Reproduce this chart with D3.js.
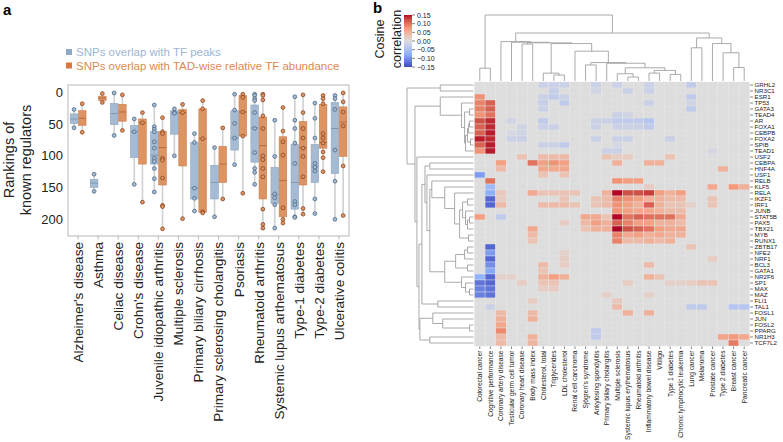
<!DOCTYPE html>
<html><head><meta charset="utf-8">
<script src="https://cdn.jsdelivr.net/npm/d3@7"></script>
<style>body{margin:0;background:#fff}svg{display:block}text{font-family:"Liberation Sans",Arial,Helvetica,sans-serif}</style>
</head><body><svg id="c" width="783" height="442"></svg>
<script>
// ---------------- Panel a data ----------------
const diseases = ["Alzheimer's disease","Asthma","Celiac disease","Crohn's disease","Juvenile idiopathic arthritis","Multiple sclerosis","Primary biliary cirrhosis","Primary sclerosing cholangitis","Psoriasis","Rheumatoid arthritis","Systemic lupus arthematosus","Type-1 diabetes","Type-2 diabetes","Ulcerative colitis"];
const yTicks = [0, 50, 100, 150, 200];
const seriesNames = ["SNPs overlap with TF peaks", "SNPs overlap with TAD-wise relative TF abundance"];

const peakQ1  = [34, 137, 17.5, 52, 62, 29, 79, 115, 29, 20, 118, 82, 82, 16];
const peakMed = [42, 143, 33.5, 62, 99, 33, 151, 142, 72, 56, 161, 142, 117, 57];
const peakQ3  = [49, 150, 51, 103, 113, 66, 168, 168, 91, 110, 175, 184, 142, 128];
const peakPts = [
  [27, 56], [129, 156], [1, 68], [42, 62, 145],
  [20, 54, 58, 62, 78, 88, 104, 109, 120, 136, 157],
  [26, 32, 33, 100], [65, 79, 151, 167, 187], [87, 196],
  [3, 28, 49, 72, 114], [3, 5, 10, 13, 32, 57, 95, 120, 126, 145],
  [44, 101, 160, 166, 177, 214], [7, 44, 57, 80, 112, 172, 177, 196, 197],
  [17, 41, 72, 112, 118, 124, 168, 191], [5, 10, 27, 91, 140, 200]
];
const tadQ1  = [29, 6, 19, 42, 62, 27, 26, 85, 5, 39, 70, 46, 19, 23];
const tadMed = [41, 9, 31, 48, 87, 32, 73, 113, 31, 84, 139, 87, 79, 47];
const tadQ3  = [52, 13, 45.5, 113, 146, 116, 189, 142, 69, 168, 196, 146, 88, 101];
const tadPts = [
  [18, 63], [2, 16], [4, 60], [32, 48, 173],
  [40, 62, 65, 104, 107, 135, 178, 180, 215],
  [19, 32, 199], [13, 26, 73, 188, 190], [56, 168],
  [3, 8, 31, 69, 159], [3, 5, 12, 37, 57, 100, 106, 120, 133, 184, 208, 214],
  [24, 61, 78, 99, 182, 200, 206], [4, 32, 57, 72, 88, 101, 133, 183, 192],
  [5, 10, 18, 65, 72, 80, 94, 103, 125], [1, 15, 31, 53, 116, 194]
];

// ---------------- Panel b data ----------------
const gwasTraits = ["Colorectal cancer","Cognitive performance","Coronary artery disease","Testicular germ cell tumor","Coronary heart disease","Body mass index","Cholesterol, total","Triglycerides","LDL cholesterol","Renal cell carcinoma","Sjögren's syndrome","Ankylosing spondylitis","Primary biliary cholangitis","Multiple sclerosis","Systemic lupus erythematosus","Rheumatoid arthritis","Inflammatory bowel disease","Vitiligo","Type 1 diabetes","Chronic lymphocytic leukemia","Lung cancer","Melanoma","Prostate cancer","Type 2 diabetes","Breast cancer","Pancreatic cancer"];
const tfs = ["GRHL2","NR3C1","ESR1","TP53","GATA3","TEAD4","AR","FOXA1","CEBPB","FOXA2","SPIB","TEAD1","USF2","CEBPA","HNF4A","USF1","RELB","KLF5","RELA","IKZF1","IRF1","JUNB","STAT5B","PAX5","TBX21","MYB","RUNX1","ZBTB17","NFE2","NRF1","BCL3","GATA1","NR2F6","SP1","MAX","MAZ","FLI1","TAL1","FOSL1","JUN","FOSL2","PPARG","NR1H3","TCF7L2"];
const colorbarTicks = [0.15, 0.10, 0.05, 0.00, -0.05, -0.10, -0.15];
// nonzero cosine correlations per TF row: [trait index, value]
const corrNonZero = [
  [[6,-.02],[7,-.02],[8,-.02],[11,-.02],[13,-.02],[16,-.02],[20,-.03]],
  [[7,-.025],[11,-.015],[14,-.02],[16,-.02]],
  [[0,.08],[6,-.02],[7,-.03],[8,-.02],[20,-.03]],
  [[0,.09],[1,.11],[6,-.025],[8,-.03],[16,-.02],[20,-.015]],
  [[0,.09],[1,.11],[6,-.02],[20,-.03]],
  [[0,.08],[1,.10],[13,-.02],[14,-.015]],
  [[0,.12],[1,.14],[3,-.015],[6,-.03],[11,-.02],[12,-.02],[13,-.03],[14,-.03],[15,-.03],[16,-.04]],
  [[0,.11],[1,.14],[4,-.015],[6,-.02],[7,-.02],[11,-.02],[13,-.02],[14,-.02],[15,-.02],[16,-.03]],
  [[0,.11],[1,.145],[3,-.01],[4,-.015]],
  [[0,.145],[1,.14],[3,-.02],[4,-.02],[11,-.02],[13,-.02],[14,-.02],[18,-.02]],
  [[0,.11],[1,.145],[6,-.02],[7,-.02],[8,-.03],[13,-.01]],
  [[0,.08],[1,.145],[12,-.02],[13,-.02],[22,-.01]],
  [[4,.03],[6,.04],[7,.04],[8,.04],[12,.03],[13,.02],[14,.02],[18,.03]],
  [[2,.07],[5,.10],[6,.07],[7,.08],[8,.07],[13,.05],[16,.05],[17,.05]],
  [[2,.04],[6,.06],[7,.06],[8,.06],[23,.05]],
  [[0,-.09],[6,.03],[8,.03]],
  [[1,.10],[13,.08],[14,.07],[15,.07]],
  [[1,-.06],[16,.02],[22,.06],[24,.075],[25,.05]],
  [[1,-.075],[2,.025],[5,.06],[6,.03],[7,.03],[8,.03],[9,.03],[12,.05],[13,.15],[14,.12],[15,.12],[16,.13],[17,.07],[18,.05],[19,.07]],
  [[1,-.13],[2,.02],[8,.03],[11,.03],[12,.04],[13,.09],[14,.08],[15,.07],[16,.05],[17,.05],[18,.04],[19,.04],[22,.03]],
  [[1,-.13],[2,.04],[6,.04],[7,.04],[8,.04],[9,.03],[11,.03],[12,.04],[13,.08],[14,.07],[15,.05],[16,.11],[17,.05],[18,.03],[19,.03],[20,.015],[22,.03]],
  [[13,.08],[14,.07],[15,.06],[16,.06],[17,.05],[18,.04],[19,.04]],
  [[0,.07],[2,-.03],[10,.06],[11,.06],[12,.03],[13,.15],[14,.10],[15,.11],[16,.10],[17,.10],[18,.10],[19,.06]],
  [[8,.02],[10,.04],[11,.07],[12,.05],[13,.11],[14,.09],[15,.07],[16,.07],[17,.05],[18,.05],[19,.04]],
  [[5,.06],[10,.03],[11,.05],[12,.05],[13,.15],[14,.12],[15,.11],[16,.10],[17,.07],[18,.06],[19,.06]],
  [[5,.04],[13,.09],[14,.06],[15,.07],[16,.05],[17,.06],[18,.05],[19,.05]],
  [[5,.03],[13,.09],[14,.04],[15,.04],[16,.05],[17,.04],[18,.05]],
  [[1,-.13],[20,.03]],
  [[1,-.09],[8,.015]],
  [[1,-.13],[8,.02],[22,.02]],
  [[1,-.10],[6,.04],[8,.02],[16,.04]],
  [[1,-.08],[6,.03]],
  [[0,-.07],[1,-.13],[2,.015],[3,.015],[6,.05],[7,.07],[8,.05],[16,.05],[17,.03]],
  [[0,-.12],[1,-.13],[4,.02],[6,.03],[7,.03],[14,.02],[18,.015],[19,.015],[20,.02],[21,.03],[22,.03]],
  [[0,-.11],[1,-.12],[6,.02],[7,.02]],
  [[0,-.11],[1,-.12],[12,.015],[16,.015]],
  [[5,.02],[13,.025]],
  [[1,-.02],[13,.04],[20,-.03],[21,-.03],[24,-.04],[25,-.04]],
  [[2,.04],[5,.04],[14,.05],[16,.05]],
  [[2,.05],[5,.05]],
  [[2,.06]],
  [[2,.085],[11,-.03]],
  [[2,.04],[5,.05],[11,-.03],[23,.065],[24,.075],[25,.06]],
  [[2,.04],[5,.045],[24,.095]]
];
// hierarchical clustering trees: [linkage distance, left, right]; leaves are indices
const traitTree = [1.0, [0.194, 0, 1],
  [0.727,
    [0.597, 2, [0.587, 3, [0.578, [0.56, 4, 5],
      [0.567, [0.119, 6, [0.09, 7, 8]],
        [0.452, 9, [0.279, [0.243, 10, 11],
          [0.269, 12, [0.2, [0.11, 13, [0.06, 14, 15]], [0.16, [0.12, 16, 17], [0.1, 18, 19]]]]]]]]]],
    [0.652, [0.503, 20, 21], [0.567, 22, [0.428, 23, [0.204, 24, 25]]]]]];
const tfTree = [1.0, [0.5, 0, 1],
  [0.88,
    [0.5, 2, [0.18, 3, [0.134, [0.06, 4, 5], [0.12, [0.09, [0.075, [0.06, 6, 7], 8], [0.045, 9, 10]], 11]]]],
    [0.851, 12,
      [0.82,
        [0.776,
          [0.73, [0.657, 13, 14],
            [0.70, 15,
              [0.657,
                [0.627, 16, [0.433, 17, [0.284, 18, [0.209, [0.164, [0.09, 19, 20], [0.12, 21, [0.09, [0.06, 22, 23], 24]]], [0.075, 25, 26]]]]],
                [0.433, [0.269, [0.134, [0.09, 27, 28], 29], [0.09, 30, 31]], [0.18, 32, [0.12, 33, [0.06, 34, 35]]]]]]],
          [0.537, 36, 37]],
        [0.806, [0.612, 38, [0.463, 39, [0.06, 40, 41]]], [0.657, 42, 43]]]]]];

// ---------------- Drawing ----------------
const svg = d3.select("#c");

svg.append("text").attr("x", 3).attr("y", 15).attr("font-size", 15).attr("font-weight", "bold").text("a");
svg.append("text").attr("x", 373).attr("y", 13).attr("font-size", 15).attr("font-weight", "bold").text("b");

// ---- Panel a ----
const fx0 = 68, fx1 = 349, fy0 = 85, fy1 = 236;
const x = d3.scaleBand().domain(diseases).range([fx0, fx1]);
const y = d3.scaleLinear().domain([0, 200]).range([92.3, 219.3]);
const blueFill = "#a5bbd3", blueStroke = "#8ea6c0", blueMed = "#7d94ae", bluePtStroke = "#4d6785";
const orFill = "#dd9462", orStroke = "#cc7d4d", orMed = "#b3683b", orPtStroke = "#8a4521";

const ga = svg.append("g");
const legend = [
  {name: seriesNames[0], fill: "#8ea9c8", text: "#9db6d4", y: 52},
  {name: seriesNames[1], fill: "#d9773f", text: "#db8a52", y: 65.5}
];
legend.forEach(l => {
  ga.append("rect").attr("x", 66).attr("y", l.y - 3).attr("width", 6).attr("height", 6).attr("fill", l.fill);
  ga.append("text").attr("x", 76).attr("y", l.y).attr("dy", "0.36em").attr("font-size", 11.5).attr("fill", l.text).text(l.name);
});

ga.append("rect").attr("x", fx0).attr("y", fy0).attr("width", fx1 - fx0).attr("height", fy1 - fy0)
  .attr("fill", "none").attr("stroke", "#c4c4c4").attr("stroke-width", 1.2);

yTicks.forEach(t => {
  ga.append("text").attr("x", 63).attr("y", y(t)).attr("dy", "0.36em").attr("text-anchor", "end")
    .attr("font-size", 13).attr("fill", "#222").text(t);
});
[["Rankings of", 9], ["known regulators", 26]].forEach(([s, xx]) => {
  ga.append("text").attr("transform", `translate(${xx},160) rotate(-90)`).attr("text-anchor", "middle")
    .attr("dy", "0.36em").attr("font-size", 14.5).attr("fill", "#222").text(s);
});
diseases.forEach(d => {
  const cx = x(d) + x.bandwidth() / 2;
  ga.append("line").attr("x1", cx).attr("x2", cx).attr("y1", fy1).attr("y2", fy1 + 3.5).attr("stroke", "#aaa").attr("stroke-width", 0.8);
  ga.append("text").attr("transform", `translate(${cx},242) rotate(-90)`).attr("text-anchor", "end")
    .attr("dy", "0.36em").attr("font-size", 13.6).attr("fill", "#222").text(d);
});

const bw = 7.6;
const series = [
  {q1: peakQ1, med: peakMed, q3: peakQ3, pts: peakPts, off: -4, fill: blueFill, stroke: blueStroke, medc: blueMed, ps: bluePtStroke},
  {q1: tadQ1, med: tadMed, q3: tadQ3, pts: tadPts, off: 4.2, fill: orFill, stroke: orStroke, medc: orMed, ps: orPtStroke}
];
series.forEach(s => diseases.forEach((d, i) => {
  const cx = x(d) + x.bandwidth() / 2 + s.off;
  const all = s.pts[i].concat([s.q1[i], s.q3[i]]);
  ga.append("line").attr("x1", cx).attr("x2", cx).attr("y1", y(d3.min(all))).attr("y2", y(d3.max(all)))
    .attr("stroke", "#cdd0d4").attr("stroke-width", 1.6);
}));
series.forEach(s => diseases.forEach((d, i) => {
  const cx = x(d) + x.bandwidth() / 2 + s.off;
  ga.append("rect").attr("x", cx - bw / 2).attr("y", y(s.q1[i])).attr("width", bw).attr("height", y(s.q3[i]) - y(s.q1[i]))
    .attr("fill", s.fill).attr("stroke", s.stroke).attr("stroke-width", 0.6);
  ga.append("line").attr("x1", cx - bw / 2).attr("x2", cx + bw / 2).attr("y1", y(s.med[i])).attr("y2", y(s.med[i]))
    .attr("stroke", s.medc).attr("stroke-width", 0.9);
}));
series.forEach(s => diseases.forEach((d, i) => {
  const cx = x(d) + x.bandwidth() / 2 + s.off;
  s.pts[i].forEach(v => {
    ga.append("circle").attr("cx", cx).attr("cy", y(v)).attr("r", 1.9)
      .attr("fill", s.fill).attr("stroke", s.ps).attr("stroke-width", 0.8);
  });
}));

// ---- Panel b ----
const hx0 = 474.5, hx1 = 749.5, hy0 = 82, hy1 = 346;
const cx = d3.scaleBand().domain(d3.range(gwasTraits.length)).range([hx0, hx1]);
const ry = d3.scaleBand().domain(d3.range(tfs.length)).range([hy0, hy1]);
const color = d3.scaleLinear().domain([-0.15, -0.075, 0, 0.075, 0.15])
  .range(["#3b4cc0", "#8db0fe", "#dddddd", "#f49a7b", "#b40426"]).interpolate(d3.interpolateLab).clamp(true);

const matrix = tfs.map((t, r) => {
  const row = gwasTraits.map(() => 0);
  corrNonZero[r].forEach(([c, v]) => { row[c] = v; });
  return row;
});
const cells = [];
matrix.forEach((row, r) => row.forEach((v, c) => cells.push({r, c, v})));
const gb = svg.append("g");
gb.selectAll("rect.cell").data(cells).join("rect").attr("class", "cell")
  .attr("x", d => cx(d.c)).attr("y", d => ry(d.r)).attr("width", cx.bandwidth()).attr("height", ry.bandwidth())
  .attr("fill", d => color(d.v)).attr("stroke", "#e6e6e6").attr("stroke-width", 0.4);

tfs.forEach((t, r) => {
  const yy = ry(r) + ry.bandwidth() / 2;
  gb.append("line").attr("x1", hx1 + 0.5).attr("x2", hx1 + 3.5).attr("y1", yy).attr("y2", yy).attr("stroke", "#333").attr("stroke-width", 0.6);
  gb.append("text").attr("x", hx1 + 5).attr("y", yy).attr("dy", "0.36em").attr("font-size", 6.2).attr("fill", "#222").text(t);
});
gwasTraits.forEach((t, c) => {
  const xx = cx(c) + cx.bandwidth() / 2;
  gb.append("line").attr("x1", xx).attr("x2", xx).attr("y1", hy1 + 0.5).attr("y2", hy1 + 3).attr("stroke", "#333").attr("stroke-width", 0.6);
  gb.append("text").attr("transform", `translate(${xx},${hy1 + 4.5}) rotate(-90)`).attr("text-anchor", "end")
    .attr("dy", "0.36em").attr("font-size", 6.6).attr("fill", "#222").text(t);
});

function layoutTree(node, leafPos, segs) {
  if (typeof node === "number") return {p: leafPos(node), d: 0};
  const [d, a, b] = node;
  const A = layoutTree(a, leafPos, segs), B = layoutTree(b, leafPos, segs);
  segs.push([[A.p, A.d], [A.p, d], [B.p, d], [B.p, B.d]]);
  return {p: (A.p + B.p) / 2, d};
}
const colSegs = [];
layoutTree(traitTree, i => cx(i) + cx.bandwidth() / 2, colSegs);
const colH = d3.scaleLinear().domain([0, 1]).range([hy0 - 1, 15]);
const colLine = d3.line().x(p => p[0]).y(p => colH(p[1]));
gb.selectAll("path.cd").data(colSegs).join("path").attr("class", "cd").attr("d", colLine)
  .attr("fill", "none").attr("stroke", "#a0a0a0").attr("stroke-width", 0.9);

const rowSegs = [];
layoutTree(tfTree, i => ry(i) + ry.bandwidth() / 2, rowSegs);
const rowH = d3.scaleLinear().domain([0, 1]).range([hx0 - 1, 407]);
const rowLine = d3.line().x(p => rowH(p[1])).y(p => p[0]);
gb.selectAll("path.rd").data(rowSegs).join("path").attr("class", "rd").attr("d", rowLine)
  .attr("fill", "none").attr("stroke", "#a0a0a0").attr("stroke-width", 0.9);

const defs = svg.append("defs");
const grad = defs.append("linearGradient").attr("id", "cb").attr("x1", 0).attr("y1", 1).attr("x2", 0).attr("y2", 0);
d3.range(0, 1.0001, 0.05).forEach(t => {
  grad.append("stop").attr("offset", t).attr("stop-color", color(-0.15 + 0.3 * t));
});
const cbY = d3.scaleLinear().domain([-0.15, 0.15]).range([67, 15]);
gb.append("rect").attr("x", 404).attr("y", cbY(0.15)).attr("width", 8).attr("height", cbY(-0.15) - cbY(0.15)).attr("fill", "url(#cb)");
colorbarTicks.forEach(t => {
  gb.append("line").attr("x1", 412).attr("x2", 415).attr("y1", cbY(t)).attr("y2", cbY(t)).attr("stroke", "#333").attr("stroke-width", 0.6);
  gb.append("text").attr("x", 417).attr("y", cbY(t)).attr("dy", "0.36em").attr("font-size", 7).attr("fill", "#222")
    .text(d3.format(".2f")(t).replace("-", "\u2212"));
});
[["Cosine", 379], ["correlation", 396]].forEach(([s, xx]) => {
  gb.append("text").attr("transform", `translate(${xx},39) rotate(-90)`).attr("text-anchor", "middle")
    .attr("dy", "0.36em").attr("font-size", 12.5).attr("fill", "#222").text(s);
});
</script>
</body></html>
